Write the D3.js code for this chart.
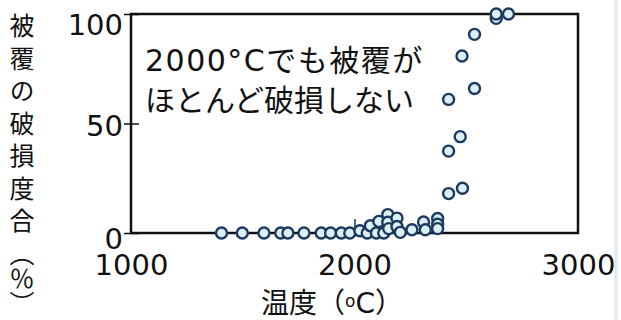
<!DOCTYPE html>
<html>
<head>
<meta charset="utf-8">
<script src="https://cdn.jsdelivr.net/npm/d3@7"></script>
<style>
  html, body { margin: 0; padding: 0; background: #fff; }
  #chart--wrap { width: 621px; height: 320px; }
  text { font-family: "DejaVu Sans", "Noto Sans CJK JP", sans-serif; fill: #111; }
</style>
</head>
<body>
<div id="chart--wrap"></div>
<script>
;(function() {
// data: temperature (C) and coating failure fraction (%)
const temps = [1405, 1498, 1595, 1670, 1702, 1774, 1851, 1893, 1941, 1979,
  2024, 2057, 2071, 2098, 2109, 2131, 2149, 2149, 2153, 2190, 2190, 2205,
  2257, 2309, 2317, 2372, 2372, 2372,
  2421, 2421, 2421, 2473, 2483, 2537, 2481, 2537, 2634, 2634, 2689];
const failure = [0, 0, 0, 0, 0, 0, 0, 0, 0, 0,
  1, 0, 3.3, 0, 5.3, 0, 8.4, 4.9, 2, 6.8, 3, 0.3,
  1.5, 5, 1.5, 6.6, 4, 2,
  18, 37.4, 61, 44, 20.4, 66, 80.8, 90.7, 98, 100, 100];
const xTicks = [1000, 2000, 3000];
const yTicks = [0, 50, 100];
const noteLines = ['2000°Cでも被覆が', 'ほとんど破損しない'];
const yTitleMain = '被覆の破損度合';
const yTitleUnit = '（％）';

const width = 621, height = 320;
const plot = { left: 131, right: 578, top: 14, bottom: 233 };

const svg = d3.select('#chart--wrap').append('svg')
  .attr('width', width)
  .attr('height', height);

// faint slide edge at the right
svg.append('line')
  .attr('x1', 616).attr('x2', 616).attr('y1', 0).attr('y2', height)
  .attr('stroke', '#dfe7f1').attr('stroke-width', 3);

const x = d3.scaleLinear().domain([1000, 3000]).range([plot.left, plot.right]);
const y = d3.scaleLinear().domain([0, 100]).range([plot.bottom, plot.top]);

// frame
svg.append('rect')
  .attr('x', plot.left).attr('y', plot.top)
  .attr('width', plot.right - plot.left)
  .attr('height', plot.bottom - plot.top)
  .attr('fill', 'none')
  .attr('stroke', '#111')
  .attr('stroke-width', 2.5);

// y axis
const yLabelShift = { 0: 5, 50: 2, 100: 10 };
const yAxis = svg.append('g')
  .attr('class', 'y-axis')
  .attr('transform', `translate(${plot.left}, 0)`)
  .call(d3.axisLeft(y).tickValues(yTicks).tickSize(7).tickPadding(1));
yAxis.select('.domain').remove();
yAxis.selectAll('.tick line')
  .attr('x1', -7).attr('x2', 8)
  .attr('stroke', '#111').attr('stroke-width', 1.5);
yAxis.selectAll('.tick text')
  .style('font-size', '29px')
  .attr('y', d => yLabelShift[d])
  .attr('dy', '0.36em');

// x axis
const xAxis = svg.append('g')
  .attr('class', 'x-axis')
  .attr('transform', `translate(0, ${plot.bottom})`)
  .call(d3.axisBottom(x).tickValues(xTicks).tickSize(0).tickPadding(21).tickFormat(d3.format('d')));
xAxis.select('.domain').remove();
xAxis.selectAll('.tick text')
  .style('font-size', '29px')
  .attr('dy', '0.71em');
xAxis.selectAll('.tick')
  .filter(d => d === 2000)
  .append('line')
  .attr('y1', 0).attr('y2', -14)
  .attr('stroke', '#1b3a5e').attr('stroke-width', 1.5);

// annotation
svg.append('g')
  .selectAll('text')
  .data(noteLines)
  .enter()
  .append('text')
  .attr('x', 145)
  .attr('y', (d, i) => 71 + i * 40)
  .style('letter-spacing', (d, i) => i === 0 ? '1.5px' : '0px')
  .style('font-size', '30px')
  .text(d => d);

// axis titles
const xt = svg.append('text')
  .attr('x', 332)
  .attr('y', 313)
  .attr('text-anchor', 'middle')
  .style('font-size', '28px');
xt.append('tspan').text('温度（');
xt.append('tspan').attr('dy', -6).style('font-size', '17px').text('o');
xt.append('tspan').attr('dy', 6).text('C）');

const yt = svg.append('text')
  .attr('x', 22)
  .attr('y', 13)
  .style('writing-mode', 'vertical-rl')
  .style('font-family', '"Noto Sans CJK JP", sans-serif')
  .style('font-size', '25px');
yt.append('tspan').style('letter-spacing', '7.5px').text(yTitleMain);
yt.append('tspan').style('letter-spacing', '0px').text(yTitleUnit);

// points
const points = temps.map((t, i) => ({ t: t, v: failure[i] }));
svg.append('g')
  .selectAll('circle')
  .data(points)
  .enter()
  .append('circle')
  .attr('cx', d => x(d.t))
  .attr('cy', d => y(d.v))
  .attr('r', 5.5)
  .attr('fill', '#dcefF7')
  .attr('stroke', '#1b3a5e')
  .attr('stroke-width', 2.4);
})();
</script>
</body>
</html>
